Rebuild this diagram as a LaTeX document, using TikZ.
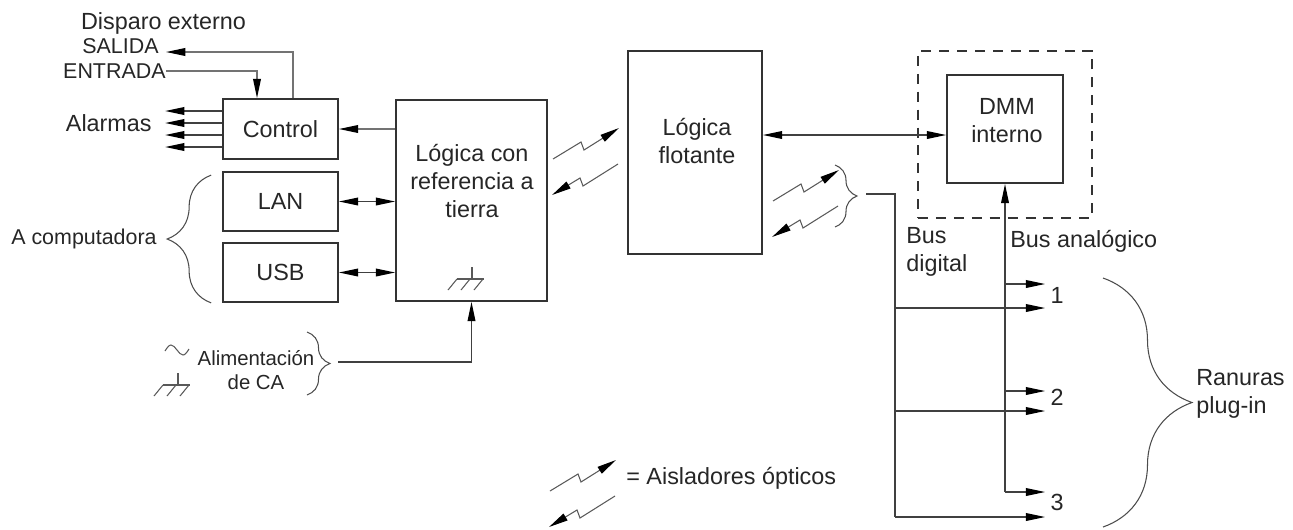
\documentclass[tikz,border=0pt]{standalone}
\usepackage{fontspec}
\setmainfont{Liberation Sans}
\usetikzlibrary{arrows.meta,decorations.pathreplacing}

% optical isolator pair, (#1,#2) = lower left end of the upper arrow
\newcommand\optopair[2]{%
  \draw[iso,-{Triangle[length=11pt,width=4.4pt,color=black]}] (#1,#2) -- ++(28,-17) -- ++(3,8) -- ++(35,-22);
  \draw[iso,{Triangle[length=11pt,width=4.4pt,color=black]}-] (#1-1,#2+36) -- ++(28,-17) -- ++(3,8) -- ++(35,-22);
}
% chassis ground, (#1,#2) = top of the stem
\newcommand\gndsym[2]{%
  \draw[iso] (#1,#2) -- (#1,#2+12) (#1-15,#2+12) -- (#1+12,#2+12);
  \foreach \h in {-15,-2,11} \draw[iso] (#1+\h,#2+12) -- ++(-9,11);
}

\begin{document}
\begin{tikzpicture}[x=0.02cm, y=-0.02cm,
    blk/.style={draw=black!80, line width=1pt, inner sep=0pt, font=\fontsize{13.3}{16}\selectfont, text=black!85},
    lbl/.style={font=\fontsize{13.3}{16}\selectfont, text=black!85, inner sep=0pt, align=center},
    sml/.style={font=\fontsize{12.2}{14}\selectfont, text=black!85, inner sep=0pt},
    wire/.style={draw=black!75, line width=0.75pt},
    arr/.style={wire, -{Triangle[length=11pt,width=4.4pt,color=black]}},
    darr/.style={wire, {Triangle[length=11pt,width=4.4pt,color=black]}-{Triangle[length=11pt,width=4.4pt,color=black]}},
    iso/.style={draw=black!65, line width=0.6pt},
    curly/.style={draw=black!70, line width=0.6pt, decorate, decoration={brace, amplitude=#1}}
]
\useasboundingbox (0,0) rectangle (1293,529);

% boxes
\node[blk, minimum width=2.30cm, minimum height=1.20cm] (ctrl) at (280.5,129) {Control};
\node[blk, minimum width=2.30cm, minimum height=1.18cm] (lan) at (280.5,201.5) {LAN};
\node[blk, minimum width=2.30cm, minimum height=1.18cm] (usb) at (280.5,272.5) {USB};
\node[blk, minimum width=3.02cm, minimum height=4.02cm] (ref) at (471.5,200.5) {};
\node[blk, minimum width=2.68cm, minimum height=4.06cm] (flt) at (695,152.5) {};
\node[blk, dash pattern=on 5.7pt off 4.5pt, minimum width=3.48cm, minimum height=3.34cm] (dmmzone) at (1005,134.5) {};
\node[blk, minimum width=2.32cm, minimum height=2.16cm] (dmm) at (1005,129) {};

% texts
\node[lbl] (reftxt) at (472,181) {Lógica con\\referencia a\\tierra};
\node[lbl] (flttxt) at (697,141) {Lógica\\flotante};
\node[lbl] (dmmtxt) at (1007,121) {DMM\\interno};
\node[lbl] (trig) at (163.5,23) {Disparo externo};
\node[sml, anchor=east] (salida) at (159,46) {SALIDA};
\node[sml, anchor=east] (entrada) at (166,71) {ENTRADA};
\node[lbl, anchor=east] (alarm) at (152,123) {Alarmas};
\node[sml, anchor=east] (pc) at (157,239) {A computadora};
\node[font=\fontsize{11.6}{13.6}\selectfont, text=black!85, inner sep=0pt, align=center] (ac) at (256,370) {Alimentación\\de CA};
\node[lbl, anchor=west, align=left] (dbtxt) at (906,252) {Bus\\digital};
\node[lbl, anchor=west] (abtxt) at (1010,241) {Bus analógico};
\node[lbl, anchor=west, align=left] (slots) at (1196,394) {Ranuras\\plug-in};
\node[lbl, anchor=west] (legend) at (626,478) {= Aisladores ópticos};
\foreach \n/\y in {1/295, 2/397, 3/502}
    \node[lbl] (s\n) at (1057,\y) {\n};

% trigger and alarms
\coordinate (salend) at (166,52);
\draw[arr, draw=black!55] ([xshift=0.25cm]ctrl.north) |- (salend);
\draw[arr, draw=black!55] (entrada.east) -| ([xshift=-0.47cm]ctrl.north);
\foreach \y in {111,123,135,147}
    \draw[arr] (ctrl.west |- 0,\y) -- ++(-57,0);

% links
\draw[arr, draw=black!55] (ctrl.east -| ref.west) -- (ctrl.east);
\draw[darr] (lan.east) -- (lan.east -| ref.west);
\draw[darr] (usb.east) -- (usb.east -| ref.west);
\coordinate (dmmin) at ([yshift=-0.12cm]dmm.west);
\draw[darr] (dmmin -| flt.east) -- (dmmin);
\coordinate (acin) at (338,362);
\draw[arr] (acin) -| (ref.south);

% digital and analog bus
\coordinate (dbin) at (866,194);
\coordinate (dbot) at (895,517);
\draw[wire] (dbin) -| (dbot);
\foreach \n/\y in {1/308, 2/411, 3/517}
    \draw[arr, shorten >=0.1cm] (dbot |- 0,\y) -- (s\n.west |- 0,\y);
\coordinate (abot) at (1005,492);
\draw[arr] (abot) -- (dmm.south);
\foreach \n/\y in {1/284, 2/391, 3/492}
    \draw[arr, shorten >=0.1cm] (abot |- 0,\y) -- (s\n.west |- 0,\y);

% isolators, grounds, mains
\optopair{553}{159}
\optopair{773}{201}
\optopair{550}{491}
\gndsym{472}{267}
\gndsym{178}{373}
\draw[iso] (165,351) sin (171,345) cos (177,350) sin (183,355) cos (189,349);

% braces
\draw[curly=0.88cm] ([xshift=-0.22cm]usb.south west) -- ([xshift=-0.22cm,yshift=-0.08cm]lan.north west);
\draw[curly=0.46cm] (307,332) -- (307,395);
\draw[curly=0.44cm] (835,165) -- (835,227);
\draw[curly=1.78cm] (1103,278) -- (1103,527);
\end{tikzpicture}
\end{document}
